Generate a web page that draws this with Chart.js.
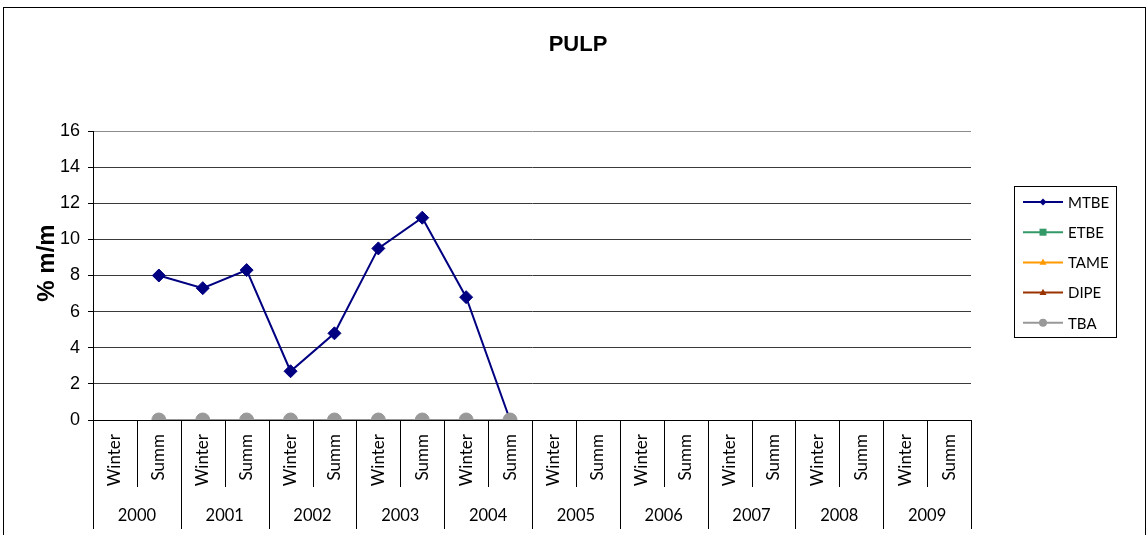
<!DOCTYPE html>
<html>
<head>
<meta charset="utf-8">
<title>PULP</title>
<script src="https://cdn.jsdelivr.net/npm/chart.js@4.4.1/dist/chart.umd.min.js"></script>
<style>
  html, body { margin: 0; padding: 0; background: #fff; }
  #wrap { width: 1146px; height: 535px; }
</style>
</head>
<body>
<div id="wrap"><canvas id="pulpChart" width="1146" height="535"></canvas></div>
<script>
// sampling periods
const years = ['2000', '2001', '2002', '2003', '2004', '2005', '2006', '2007', '2008', '2009'];
const seasons = ['Winter', 'Summ'];
const categories = years.flatMap(y => seasons.map(s => y + ' ' + s));

// oxygenate content, % m/m (one value per season)
const mtbe = [null, 8.0, 7.3, 8.3, 2.7, 4.8, 9.5, 11.2, 6.8, 0.0, null, null, null, null, null, null, null, null, null, null];
const etbe = [null, 0, 0, 0, 0, 0, 0, 0, 0, 0, null, null, null, null, null, null, null, null, null, null];
const tame = [null, 0, 0, 0, 0, 0, 0, 0, 0, 0, null, null, null, null, null, null, null, null, null, null];
const dipe = [null, 0, 0, 0, 0, 0, 0, 0, 0, 0, null, null, null, null, null, null, null, null, null, null];
const tba  = [null, 0, 0, 0, 0, 0, 0, 0, 0, 0, null, null, null, null, null, null, null, null, null, null];

const yTicks = [0, 2, 4, 6, 8, 10, 12, 14, 16];

const AXIS_FONT = '"Liberation Sans", Arial, sans-serif';
const LABEL_FONT = 'Lato, "Open Sans", sans-serif';

// small legend marker, same shapes as the points
function drawMarker(ctx, style, x, y, r, color) {
  ctx.save();
  ctx.fillStyle = color;
  ctx.beginPath();
  if (style === 'rectRot') {
    ctx.moveTo(x, y - r); ctx.lineTo(x + r, y); ctx.lineTo(x, y + r); ctx.lineTo(x - r, y);
  } else if (style === 'rect') {
    ctx.rect(x - r, y - r, r * 2, r * 2);
  } else if (style === 'triangle') {
    ctx.moveTo(x, y - r * 1.1); ctx.lineTo(x + r, y + r * 0.7); ctx.lineTo(x - r, y + r * 0.7);
  } else {
    ctx.arc(x, y, r, 0, Math.PI * 2);
  }
  ctx.closePath();
  ctx.fill();
  ctx.restore();
}

const decorations = {
  id: 'decorations',
  beforeDraw(chart) {
    const ctx = chart.ctx;
    ctx.save();
    ctx.fillStyle = '#fff';
    ctx.fillRect(0, 0, chart.width, chart.height);
    ctx.strokeStyle = '#000';
    ctx.lineWidth = 1;
    ctx.strokeRect(3.5, 7.5, 1142, 600);
    ctx.restore();
  },
  afterDraw(chart) {
    const ctx = chart.ctx;
    const xs = chart.scales.x;
    const area = chart.chartArea;
    const half = (xs.getPixelForValue(1) - xs.getPixelForValue(0)) / 2;

    ctx.save();
    // title
    ctx.fillStyle = '#000';
    ctx.font = 'bold 22px ' + AXIS_FONT;
    ctx.textAlign = 'center';
    ctx.textBaseline = 'middle';
    ctx.fillText('PULP', 578, 45);

    // y axis title
    ctx.save();
    ctx.translate(47, 263);
    ctx.rotate(-Math.PI / 2);
    ctx.font = 'bold 24px ' + AXIS_FONT;
    ctx.fillText('% m/m', 0, 0);
    ctx.restore();

    // category dividers, season labels and year labels
    ctx.strokeStyle = '#000';
    ctx.lineWidth = 1;
    years.forEach((yr, i) => {
      seasons.forEach((s, j) => {
        const idx = i * seasons.length + j;
        const cx = xs.getPixelForValue(idx);
        const left = Math.round(cx - half) + 0.5;
        ctx.beginPath();
        ctx.moveTo(left, area.bottom);
        ctx.lineTo(left, j === 0 ? 529 : 487);
        ctx.stroke();

        ctx.save();
        ctx.translate(cx, 434);
        ctx.rotate(-Math.PI / 2);
        ctx.font = '17px ' + LABEL_FONT;
        ctx.textAlign = 'right';
        ctx.textBaseline = 'middle';
        ctx.fillText(s, 0, 0);
        ctx.restore();
      });
      const mid = (xs.getPixelForValue(i * 2) + xs.getPixelForValue(i * 2 + 1)) / 2;
      ctx.font = '16.5px ' + LABEL_FONT;
      ctx.textAlign = 'center';
      ctx.textBaseline = 'middle';
      ctx.fillText(yr, mid, 516);
    });
    const last = Math.round(xs.getPixelForValue(categories.length - 1) + half) + 0.5;
    ctx.beginPath();
    ctx.moveTo(last, area.bottom);
    ctx.lineTo(last, 529);
    ctx.stroke();

    // legend
    ctx.strokeRect(1014.5, 186.5, 102, 151);
    chart.data.datasets.forEach((ds, i) => {
      const y = 202 + i * 30.2;
      ctx.strokeStyle = ds.borderColor;
      ctx.lineWidth = 2;
      ctx.beginPath();
      ctx.moveTo(1023, y);
      ctx.lineTo(1063, y);
      ctx.stroke();
      drawMarker(ctx, ds.pointStyle, 1043, y, ds.pointStyle === 'circle' ? 4 : 3.5, ds.pointBackgroundColor);
      ctx.fillStyle = '#000';
      ctx.font = '15px ' + LABEL_FONT;
      ctx.textAlign = 'left';
      ctx.textBaseline = 'middle';
      ctx.fillText(ds.label, 1068, y + 1);
    });
    ctx.restore();
  }
};

const series = (label, data, color, pointStyle, radius, order) => ({
  label: label,
  data: data,
  borderColor: color,
  backgroundColor: color,
  pointBackgroundColor: color,
  pointBorderColor: color,
  pointStyle: pointStyle,
  pointRadius: radius,
  pointBorderWidth: 1,
  borderWidth: 2,
  tension: 0,
  spanGaps: false,
  order: order
});

const ctx = document.getElementById('pulpChart').getContext('2d');
const pulpChart = new Chart(ctx, {
  type: 'line',
  data: {
    labels: categories,
    datasets: [
      series('MTBE', mtbe, '#000080', 'rectRot', 6.5, 1),
      series('ETBE', etbe, '#339966', 'rect', 4.5, 4),
      series('TAME', tame, '#FF9900', 'triangle', 5, 3),
      series('DIPE', dipe, '#993300', 'triangle', 5, 2),
      series('TBA', tba, '#999999', 'circle', 7, 0)
    ]
  },
  options: {
    responsive: false,
    animation: false,
    layout: { padding: { top: 131, right: 175, bottom: 0, left: 0 } },
    plugins: {
      legend: { display: false },
      title: { display: false },
      tooltip: { enabled: false }
    },
    scales: {
      x: {
        type: 'category',
        offset: true,
        grid: { display: false },
        border: { display: true, color: '#000', width: 1 },
        ticks: { display: false },
        afterFit: scale => { scale.height = 115; }
      },
      y: {
        min: 0,
        max: 16,
        afterBuildTicks: scale => { scale.ticks = yTicks.map(v => ({ value: v })); },
        grid: {
          color: c => (c.tick && c.tick.value === 16 ? '#8c8c8c' : '#3a3a3a'),
          tickColor: '#000',
          tickLength: 5,
          lineWidth: 1
        },
        border: { display: true, color: '#000', width: 1 },
        ticks: {
          padding: 8,
          color: '#000',
          font: { family: AXIS_FONT, size: 18 }
        },
        afterFit: scale => { scale.width = 93; }
      }
    }
  },
  plugins: [decorations]
});
</script>
</body>
</html>
